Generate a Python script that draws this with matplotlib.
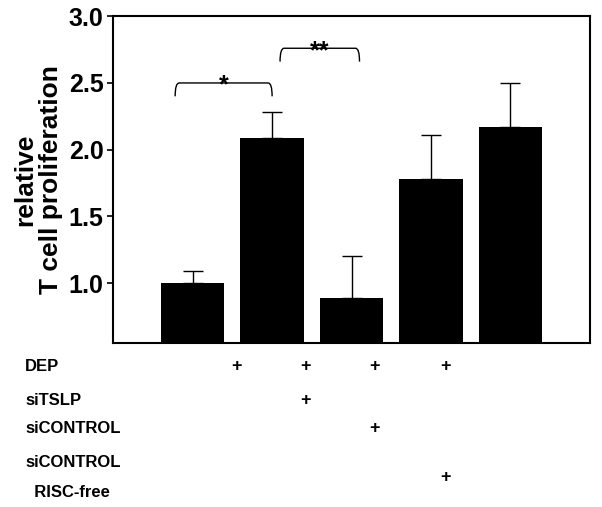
import numpy as np
import matplotlib.pyplot as plt
from matplotlib.path import Path
from matplotlib.patches import PathPatch
import matplotlib.transforms as mtransforms

plt.rcParams['font.family'] = ['Liberation Sans', 'DejaVu Sans']

# data
means = [1.00, 2.09, 0.89, 1.78, 2.17]
errs = [0.09, 0.19, 0.31, 0.33, 0.33]
bar_pos = [1, 2, 3, 4, 5]

# significance brackets: (left x, right x, top y, label)
brackets = [(0.78, 2.0, 2.50, '*'), (2.1, 3.1, 2.76, '**')]

# treatment table
label_lines = ['DEP', 'siTSLP', 'siCONTROL', 'siCONTROL', '  RISC-free']
label_y = [0.278, 0.211, 0.154, 0.087, 0.028]
row_y = [0.278, 0.211, 0.154, 0.059]
plus_x = [1.55, 2.42, 3.29, 4.18]
plus_table = [
    [1, 1, 1, 1],
    [0, 1, 0, 0],
    [0, 0, 1, 0],
    [0, 0, 0, 1],
]

fig = plt.figure(figsize=(6.02, 5.07), dpi=100)
ax = fig.add_axes([0.188, 0.323, 0.792, 0.645])

ax.bar(bar_pos, means, width=0.8, color='black', zorder=2)
ax.errorbar(bar_pos, means, yerr=[np.zeros(len(errs)), errs], fmt='none',
            ecolor='black', elinewidth=1.0, capsize=7.5, capthick=1.0, zorder=1)

ax.set_xlim(0, 6)
ax.set_ylim(0.55, 3.0)
ax.set_yticks([1.0, 1.5, 2.0, 2.5, 3.0])
ax.set_yticklabels(['1.0', '1.5', '2.0', '2.5', '3.0'], fontsize=18, fontweight='bold')
ax.set_xticks([])
ax.tick_params(axis='y', direction='out', length=4, width=1.2, pad=3)
for s in ax.spines.values():
    s.set_linewidth(1.5)

ax.set_ylabel('relative\nT cell proliferation', fontsize=19, fontweight='bold',
              labelpad=4, linespacing=1.1)

# brackets with rounded corners
for x0, x1, y, lab in brackets:
    d = 0.10
    r = 0.05
    verts = [(x0, y - d), (x0, y), (x0 + r, y), (x1 - r, y), (x1, y), (x1, y - d)]
    codes = [Path.MOVETO, Path.CURVE3, Path.CURVE3, Path.LINETO, Path.CURVE3, Path.CURVE3]
    ax.add_patch(PathPatch(Path(verts, codes), fill=False, lw=1.0, color='black'))
    ax.text((x0 + x1) / 2, y - 0.02, lab, ha='center', va='center',
            fontsize=18, fontweight='bold')

for lab, y in zip(label_lines, label_y):
    fig.text(0.042, y, lab, fontsize=12, fontweight='bold', va='center')

trans = mtransforms.blended_transform_factory(ax.transData, fig.transFigure)
for y, row in zip(row_y, plus_table):
    for px, flag in zip(plus_x, row):
        if flag:
            ax.text(px, y, '+', transform=trans, ha='center', va='center',
                    fontsize=13, fontweight='bold', clip_on=False)

fig.savefig('out.png', dpi=100)
